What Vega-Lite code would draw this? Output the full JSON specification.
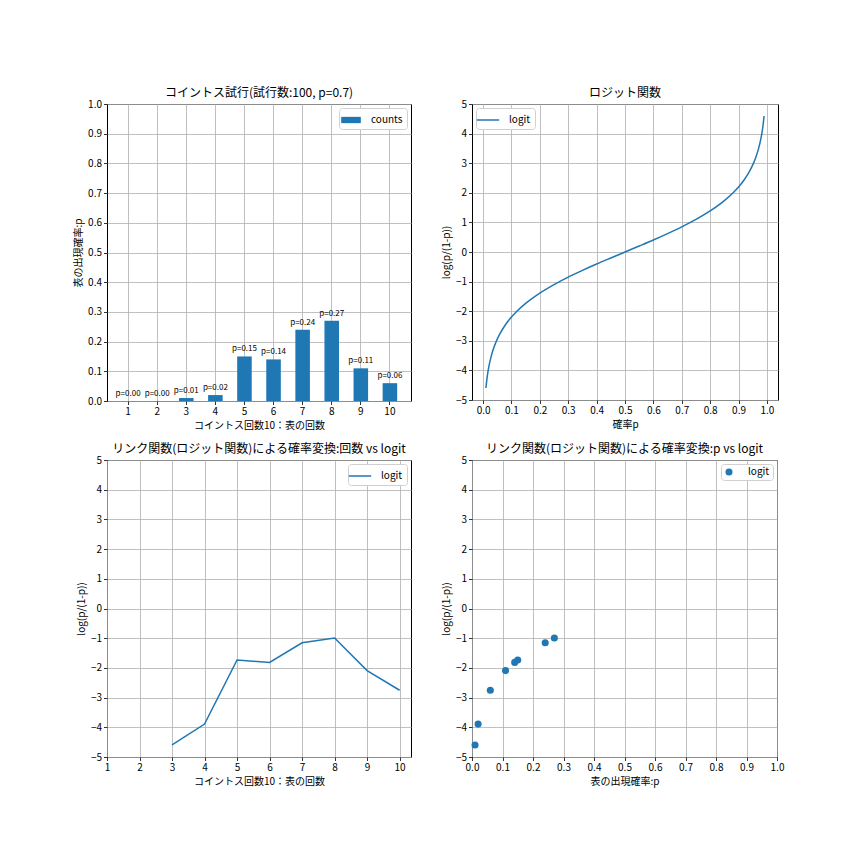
{
  "$schema": "https://vega.github.io/schema/vega-lite/v6.json",
  "description": "Coin toss probabilities and logit transform",
  "padding": {"left": 73, "top": 86, "right": 10, "bottom": 10},
  "datasets": {
    "coins": [
      {"n": 1, "p": 0.0, "logit": null},
      {"n": 2, "p": 0.0, "logit": null},
      {"n": 3, "p": 0.01, "logit": -4.595},
      {"n": 4, "p": 0.02, "logit": -3.892},
      {"n": 5, "p": 0.15, "logit": -1.735},
      {"n": 6, "p": 0.14, "logit": -1.815},
      {"n": 7, "p": 0.24, "logit": -1.153},
      {"n": 8, "p": 0.27, "logit": -0.995},
      {"n": 9, "p": 0.11, "logit": -2.091},
      {"n": 10, "p": 0.06, "logit": -2.752}
    ],
    "curve": [
      {"p": 0.01, "logit": -4.595},
      {"p": 0.015, "logit": -4.185},
      {"p": 0.02, "logit": -3.892},
      {"p": 0.03, "logit": -3.476},
      {"p": 0.04, "logit": -3.178},
      {"p": 0.05, "logit": -2.944},
      {"p": 0.06, "logit": -2.752},
      {"p": 0.08, "logit": -2.442},
      {"p": 0.1, "logit": -2.197},
      {"p": 0.12, "logit": -1.992},
      {"p": 0.15, "logit": -1.735},
      {"p": 0.2, "logit": -1.386},
      {"p": 0.25, "logit": -1.099},
      {"p": 0.3, "logit": -0.847},
      {"p": 0.35, "logit": -0.619},
      {"p": 0.4, "logit": -0.405},
      {"p": 0.45, "logit": -0.201},
      {"p": 0.5, "logit": 0.0},
      {"p": 0.55, "logit": 0.201},
      {"p": 0.6, "logit": 0.405},
      {"p": 0.65, "logit": 0.619},
      {"p": 0.7, "logit": 0.847},
      {"p": 0.75, "logit": 1.099},
      {"p": 0.8, "logit": 1.386},
      {"p": 0.85, "logit": 1.735},
      {"p": 0.88, "logit": 1.992},
      {"p": 0.9, "logit": 2.197},
      {"p": 0.92, "logit": 2.442},
      {"p": 0.94, "logit": 2.752},
      {"p": 0.95, "logit": 2.944},
      {"p": 0.96, "logit": 3.178},
      {"p": 0.97, "logit": 3.476},
      {"p": 0.98, "logit": 3.892},
      {"p": 0.985, "logit": 4.185},
      {"p": 0.99, "logit": 4.595}
    ]
  },
  "columns": 2,
  "spacing": {"row": 59, "column": 61},
  "bounds": "flush",
  "concat": [
    {
      "width": 304,
      "height": 297,
      "title": "コイントス試行(試行数:100, p=0.7)",
      "data": {"name": "coins"},
      "transform": [
        {"calculate": "'p=' + format(datum.p, '.2f')", "as": "label"}
      ],
      "encoding": {
        "x": {
          "field": "n",
          "type": "ordinal",
          "title": "コイントス回数10：表の回数",
          "scale": {"type": "band", "paddingInner": 0.5, "paddingOuter": 0.475},
          "axis": {"bandPosition": 0.5, "grid": true}
        },
        "y": {
          "field": "p",
          "type": "quantitative",
          "title": "表の出現確率:p",
          "scale": {"domain": [0, 1], "nice": false},
          "axis": {"values": [0, 0.1, 0.2, 0.3, 0.4, 0.5, 0.6, 0.7, 0.8, 0.9, 1.0], "format": ".1f"}
        }
      },
      "layer": [
        {
          "mark": {"type": "bar"},
          "encoding": {
            "color": {
              "datum": "counts",
              "scale": {"range": ["#1f77b4"]},
              "legend": {
                "title": null,
                "orient": "top-right",
                "symbolType": "M-1.4,-0.45H1.4V0.45H-1.4Z",
                "symbolSize": 196,
                "padding": 4,
                "labelOffset": 12
              }
            }
          }
        },
        {
          "mark": {"type": "text", "baseline": "bottom", "dy": -3, "fontSize": 8, "color": "#000000"},
          "encoding": {"text": {"field": "label"}}
        }
      ]
    },
    {
      "width": 306,
      "height": 296,
      "title": "ロジット関数",
      "data": {"name": "curve"},
      "mark": {"type": "line", "strokeWidth": 1.5, "interpolate": "monotone"},
      "encoding": {
        "x": {
          "field": "p",
          "type": "quantitative",
          "title": "確率p",
          "scale": {"domain": [-0.039, 1.039], "nice": false, "zero": false},
          "axis": {"values": [0, 0.1, 0.2, 0.3, 0.4, 0.5, 0.6, 0.7, 0.8, 0.9, 1.0], "format": ".1f"}
        },
        "y": {
          "field": "logit",
          "type": "quantitative",
          "title": "log(p/(1-p))",
          "scale": {"domain": [-5, 5], "nice": false},
          "axis": {"values": [-5, -4, -3, -2, -1, 0, 1, 2, 3, 4, 5], "format": "d"}
        },
        "color": {
          "datum": "logit",
          "scale": {"range": ["#1f77b4"]},
          "legend": {"title": null, "orient": "top-left", "symbolType": "M-1.6,0H1.6", "symbolSize": 196, "symbolStrokeWidth": 1.5, "padding": 4, "labelOffset": 13}
        }
      }
    },
    {
      "width": 304,
      "height": 297,
      "title": "リンク関数(ロジット関数)による確率変換:回数 vs logit",
      "data": {"name": "coins"},
      "mark": {"type": "line", "strokeWidth": 1.5},
      "encoding": {
        "x": {
          "field": "n",
          "type": "quantitative",
          "title": "コイントス回数10：表の回数",
          "scale": {"domain": [1, 10.35], "nice": false, "zero": false},
          "axis": {"values": [1, 2, 3, 4, 5, 6, 7, 8, 9, 10], "format": "d"}
        },
        "y": {
          "field": "logit",
          "type": "quantitative",
          "title": "log(p/(1-p))",
          "scale": {"domain": [-5, 5], "nice": false},
          "axis": {"values": [-5, -4, -3, -2, -1, 0, 1, 2, 3, 4, 5], "format": "d"}
        },
        "color": {
          "datum": "logit",
          "scale": {"range": ["#1f77b4"]},
          "legend": {"title": null, "orient": "top-right", "symbolType": "M-1.6,0H1.6", "symbolSize": 196, "symbolStrokeWidth": 1.5, "padding": 4, "labelOffset": 13}
        }
      }
    },
    {
      "width": 305,
      "height": 297,
      "title": "リンク関数(ロジット関数)による確率変換:p vs logit",
      "data": {"name": "coins"},
      "mark": {"type": "point", "filled": true, "opacity": 1, "size": 50},
      "encoding": {
        "x": {
          "field": "p",
          "type": "quantitative",
          "title": "表の出現確率:p",
          "scale": {"domain": [0, 1], "nice": false},
          "axis": {"values": [0, 0.1, 0.2, 0.3, 0.4, 0.5, 0.6, 0.7, 0.8, 0.9, 1.0], "format": ".1f"}
        },
        "y": {
          "field": "logit",
          "type": "quantitative",
          "title": "log(p/(1-p))",
          "scale": {"domain": [-5, 5], "nice": false},
          "axis": {"values": [-5, -4, -3, -2, -1, 0, 1, 2, 3, 4, 5], "format": "d"}
        },
        "color": {
          "datum": "logit",
          "scale": {"range": ["#1f77b4"]},
          "legend": {"title": null, "orient": "top-right", "symbolType": "circle", "symbolSize": 50, "padding": 3, "labelOffset": 14}
        }
      }
    }
  ],
  "resolve": {
    "scale": {"color": "independent"},
    "legend": {"color": "independent"}
  },
  "config": {
    "font": "Noto Sans CJK JP",
    "view": {"stroke": "#000000", "strokeWidth": 1},
    "axis": {
      "domain": false,
      "grid": true,
      "gridColor": "#b0b0b0",
      "gridWidth": 0.8,
      "tickColor": "#000000",
      "tickSize": 3.5,
      "tickWidth": 0.8,
      "labelColor": "#000000",
      "labelFontSize": 10,
      "labelPadding": 2,
      "labelAngle": 0,
      "labelFlush": false,
      "labelOverlap": false,
      "labelBound": false,
      "titleColor": "#000000",
      "titleFontSize": 10,
      "titleFontWeight": "normal",
      "titlePadding": 4
    },
    "title": {"fontSize": 12, "fontWeight": "normal", "color": "#000000", "offset": -1, "anchor": "middle"},
    "legend": {
      "fillColor": "#ffffff",
      "strokeColor": "#d0d0d0",
      "cornerRadius": 3,
      "padding": 3,
      "offset": 4,
      "labelFontSize": 10,
      "labelColor": "#000000",
      "labelOffset": 8
    }
  }
}
